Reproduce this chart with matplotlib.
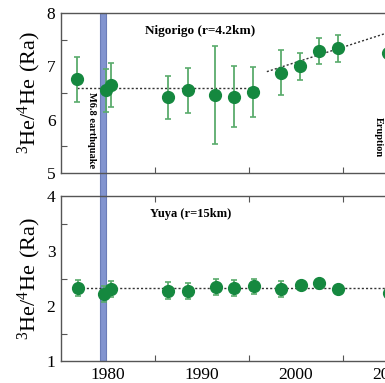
import numpy as np
import matplotlib
matplotlib.use("Agg")
import matplotlib.pyplot as plt

plt.rcParams['font.family'] = ['Liberation Serif', 'DejaVu Serif']
plt.rcParams['mathtext.fontset'] = 'custom'
plt.rcParams['mathtext.rm'] = 'Liberation Serif'

# Nigorigo (r=4.2km)
nig_year = [1976.7, 1979.8, 1980.3, 1986.4, 1988.5, 1991.4, 1993.4, 1995.4,
            1998.4, 2000.4, 2002.4, 2004.5, 2009.8]
nig_ratio = [6.76, 6.55, 6.65, 6.42, 6.55, 6.47, 6.43, 6.52,
             6.88, 7.00, 7.29, 7.34, 7.25]
nig_err = [0.42, 0.40, 0.42, 0.40, 0.42, 0.92, 0.57, 0.47,
           0.42, 0.25, 0.24, 0.25, 0.0]

# Yuya (r=15km)
yuya_year = [1976.8, 1979.6, 1980.3, 1986.4, 1988.5, 1991.5, 1993.4, 1995.5,
             1998.4, 2000.5, 2002.5, 2004.5, 2009.9]
yuya_ratio = [2.33, 2.22, 2.31, 2.28, 2.27, 2.35, 2.33, 2.36,
              2.31, 2.39, 2.41, 2.31, 2.24]
yuya_err = [0.15, 0.14, 0.15, 0.15, 0.15, 0.15, 0.14, 0.14,
            0.14, 0.06, 0.05, 0.04, 0.0]

# trend lines
nig_flat_x = [1976.7, 1996.0]
nig_flat_y = [6.6, 6.6]
nig_rise_x = [1996.9, 2014.0]
nig_rise_y = [6.9, 7.87]
yuya_flat_x = [1976.8, 2014.0]
yuya_flat_y = [2.32, 2.32]

year_labels = ['1980', '1990', '2000', '2010']
year_ticks = [1980, 1990, 2000, 2010]

quake_year = 1979.5
eruption_year = 2008.8

marker_col = '#15883f'
err_col = '#5aab6c'
bar_col = '#8294cf'

fig = plt.figure(figsize=(3.85, 3.83), dpi=100)
ax1 = fig.add_axes([0.1584, 0.5483, 0.9766, 0.4178])
ax2 = fig.add_axes([0.1584, 0.0574, 0.9766, 0.4308])

for ax in (ax1, ax2):
    ax.set_xlim(1975, 2015)
    ax.set_xticks(year_ticks)
    ax.set_xticklabels(year_labels, fontfamily='Liberation Serif')
    ax.set_xticks([1985, 1995, 2005], minor=True)
    for s in ax.spines.values():
        s.set_color('#555555')
        s.set_linewidth(1.0)
    ax.spines['right'].set_visible(False)
    ax.tick_params(which='major', length=0, labelsize=12.5, pad=4)
    ax.tick_params(which='minor', direction='in', length=4, width=0.8, color='#555555')

ax1.set_ylim(5, 8)
ax1.set_yticks([5, 6, 7, 8])
ax1.set_yticklabels(['5', '6', '7', '8'], fontfamily='Liberation Serif')
ax1.set_yticks([5.5, 6.5, 7.5], minor=True)
ax1.tick_params(axis='x', labelbottom=False)

ax2.set_ylim(1, 4)
ax2.set_yticks([1, 2, 3, 4])
ax2.set_yticklabels(['1', '2', '3', '4'], fontfamily='Liberation Serif')
ax2.set_yticks([1.5, 2.5, 3.5], minor=True)
ax2.tick_params(axis='x', which='minor', top=True)

# earthquake bar
ax1.axvspan(quake_year - 0.3, quake_year + 0.3, ymin=-0.144, ymax=1,
            color=bar_col, ec='#6b7db8', lw=0.8, clip_on=False, zorder=1)
ax2.axvspan(quake_year - 0.3, quake_year + 0.3, color=bar_col, ec='#6b7db8',
            lw=0.8, zorder=1)

ax1.plot(nig_flat_x, nig_flat_y, ls=(0, (1.5, 1.5)), color='#333333', lw=1.0, zorder=2)
ax1.plot(nig_rise_x, nig_rise_y, ls=(0, (1.5, 1.5)), color='#333333', lw=1.0, zorder=2)
ax2.plot(yuya_flat_x, yuya_flat_y, ls=(0, (1.5, 1.5)), color='#333333', lw=1.0, zorder=2)

ax1.errorbar(nig_year, nig_ratio, yerr=nig_err, fmt='o', color=marker_col,
             ms=8.5, ecolor=err_col, elinewidth=1.3, capsize=2.5, capthick=1.2, zorder=3)
ax2.errorbar(yuya_year, yuya_ratio, yerr=yuya_err, fmt='o', color=marker_col,
             ms=8.5, ecolor=err_col, elinewidth=1.3, capsize=2.5, capthick=1.2, zorder=3)

ax1.text(1989.8, 7.66, 'Nigorigo (r=4.2km)', fontsize=9.5, fontweight='bold',
         ha='center', va='center')
ax2.text(1988.8, 3.67, 'Yuya (r=15km)', fontsize=9, fontweight='bold',
         ha='center', va='center')
ax1.text(1978.2, 5.8, 'M6.8 earthquake', fontsize=7.5, fontweight='bold',
         rotation=-90, ha='center', va='center')
ax1.text(eruption_year, 5.67, 'Eruption', fontsize=7.5, fontweight='bold',
         rotation=-90, ha='center', va='center')

ax1.set_ylabel('$\\mathregular{^3He/^4He\\ (Ra)}$', fontsize=16, labelpad=3)
ax2.set_ylabel('$\\mathregular{^3He/^4He\\ (Ra)}$', fontsize=16, labelpad=3)

fig.savefig('out.png', dpi=100)
